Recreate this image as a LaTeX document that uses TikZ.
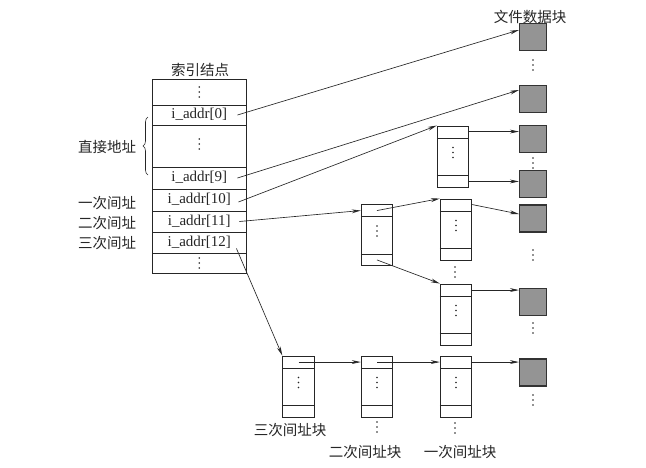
\documentclass[tikz,border=0pt]{standalone}
\usepackage{fontspec}
\setmainfont{Liberation Serif}
\newfontfamily\cjk{Noto Sans CJK SC}
\usetikzlibrary{arrows.meta,decorations.pathreplacing,calc}

\tikzset{
  cell/.style={draw=black!85, line width=0.9pt, minimum width=93.5pt, inner sep=0pt,
    text height=10.5pt, text depth=3pt, font=\fontsize{15}{15}\selectfont, text=black!85},
  iblk/.style={draw=black!85, line width=0.9pt, minimum width=31.5pt, minimum height=61pt, inner sep=0pt},
  dblk/.style={draw=black!80, fill=black!42, line width=1.1pt, minimum size=27pt, inner sep=0pt},
  ptr/.style={draw=black!85, line width=0.65pt, -{Stealth[length=9pt,width=3.8pt]}},
  lbl/.style={font=\cjk\fontsize{14.5}{15}\selectfont, inner sep=0pt, text=black!85},
}

% three vertical dots centred on a point
\newcommand\vdotsat[1]{%
  \foreach \k in {-1,0,1} \fill[black!85] ($(#1)+(0,\k*5)$) circle (0.95pt);}

% an index block: box with a top and a bottom slot and dots in between
\newcommand\idxblock[3]{%
  \node[iblk] (#1) at (#2,#3) {};
  \draw[black!85, line width=0.8pt] ([yshift=-12.5pt]#1.north west) -- ([yshift=-12.5pt]#1.north east);
  \draw[black!85, line width=0.8pt] ([yshift=12pt]#1.south west) -- ([yshift=12pt]#1.south east);
  \vdotsat{$(#1.center)+(0,-4)$}}

\begin{document}
\begin{tikzpicture}[x=1pt,y=-1pt]
  \useasboundingbox (0,0) rectangle (646,467);
  \fill[white] (0,0) rectangle (646,467);

  % inode table
  \node[lbl] (ttl) at (200,70) {索引结点};
  \node[cell, minimum height=26pt] (rtop) at (199.25,92) {};
  \node[cell, minimum height=20pt] (r0) at (199.25,115) {i\_addr[0]};
  \node[cell, minimum height=42pt] (rmid) at (199.25,146) {};
  \node[cell, minimum height=22pt] (r9) at (199.25,178) {i\_addr[9]};
  \node[cell, minimum height=22pt] (r10) at (199.25,200) {i\_addr[10]};
  \node[cell, minimum height=21pt] (r11) at (199.25,221.5) {i\_addr[11]};
  \node[cell, minimum height=21pt] (r12) at (199.25,242.5) {i\_addr[12]};
  \node[cell, minimum height=20pt] (rbot) at (199.25,263) {};
  \vdotsat{rtop.center}
  \vdotsat{$(rmid.center)+(0,-2)$}
  \vdotsat{rbot.center}

  % left-hand labels
  \draw[black!85, line width=0.6pt, decorate, decoration={brace, amplitude=5pt}]
    (148,175) -- (148,117);
  \node[lbl] (ldir) at (107,147) {直接地址};
  \node[lbl] (l1) at (107,203) {一次间址};
  \node[lbl] (l2) at (107,223) {二次间址};
  \node[lbl] (l3) at (107,243) {三次间址};

  % file data blocks
  \node[lbl] (ttd) at (530,17) {文件数据块};
  \node[dblk] (d1) at (533,37) {};
  \node[dblk] (d2) at (533,99) {};
  \node[dblk] (d3) at (533,139) {};
  \node[dblk] (d4) at (533,184) {};
  \node[dblk] (d5) at (533,218.5) {};
  \node[dblk] (d6) at (533,302) {};
  \node[dblk] (d7) at (533,372.5) {};
  \vdotsat{533,65}
  \vdotsat{533,163}
  \vdotsat{533,255}
  \vdotsat{533,328}
  \vdotsat{533,400}

  % index blocks
  \idxblock{A}{453}{156.5}
  \idxblock{B}{377}{235}
  \idxblock{C}{456}{229.5}
  \idxblock{D}{456}{314.5}
  \idxblock{E}{298.5}{386.5}
  \idxblock{F}{377}{386.5}
  \idxblock{G}{456}{386.5}
  \vdotsat{455,272}
  \vdotsat{377,427}
  \vdotsat{455,428}

  \node[lbl] (lb3) at (290,430) {三次间址块};
  \node[lbl] (lb2) at (365,452) {二次间址块};
  \node[lbl] (lb1) at (460,452) {一次间址块};

  % pointers from the inode
  \draw[ptr] ([xshift=-9pt]r0.east) -- ([yshift=7pt]d1.west);
  \draw[ptr] ([xshift=-9pt]r9.east) -- ([yshift=9pt]d2.west);
  \draw[ptr] ([xshift=-8pt,yshift=-2pt]r10.east) -- (A.north west);
  \draw[ptr] ([xshift=-7pt]r11.east) -- ([yshift=-6.5pt]B.north west);
  \draw[ptr] ([xshift=-10pt,yshift=-6pt]r12.east) -- (E.north west);

  % pointers between blocks
  \coordinate (a1) at ([yshift=-6pt]A.north east);
  \coordinate (a2) at ([yshift=6pt]A.south east);
  \draw[ptr] (a1) -- (a1 -| d3.west);
  \draw[ptr] (a2) -- (a2 -| d4.west);
  \draw[ptr] ([yshift=-6.5pt]B.north) -- (C.north west);
  \draw[ptr] ([yshift=6pt]B.south) -- (D.north west);
  \draw[ptr] ([yshift=-6pt]C.north east) -- ([yshift=4.5pt]d5.west);
  \coordinate (dd) at ([yshift=-6.5pt]D.north east);
  \draw[ptr] (dd) -- (dd -| d6.west);
  \coordinate (ee) at ([yshift=-6.5pt]E.north);
  \draw[ptr] (ee) -- (ee -| F.west);
  \coordinate (ff) at ([yshift=-6.5pt]F.north);
  \draw[ptr] (ff) -- (ff -| G.west);
  \coordinate (gg) at ([yshift=-6.5pt]G.north east);
  \draw[ptr] (gg) -- (gg -| d7.west);
\end{tikzpicture}
\end{document}
